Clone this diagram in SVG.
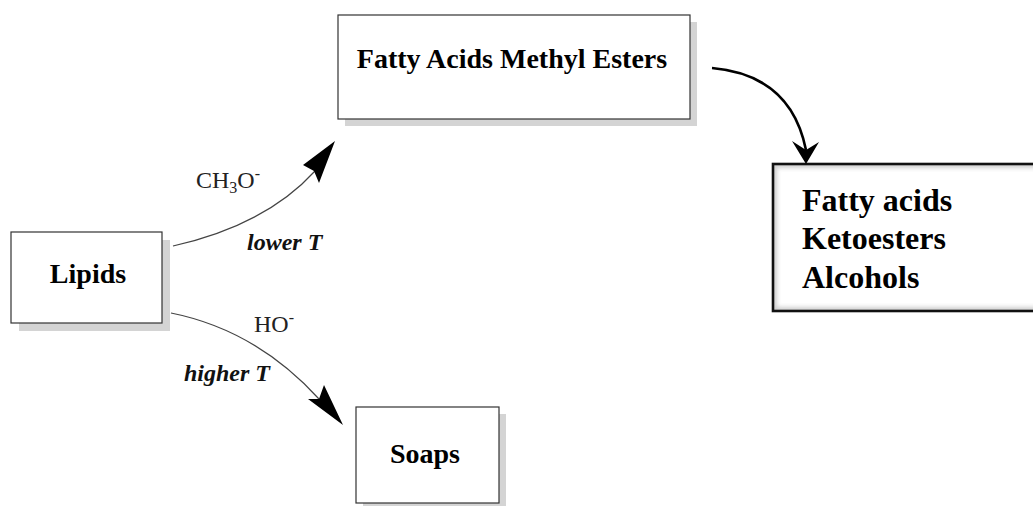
<svg xmlns="http://www.w3.org/2000/svg" width="1033" height="506" viewBox="0 0 1033 506">
<style>
.box{fill:#fff;stroke:#333;stroke-width:1.2}
.shadow{fill:#d4d4d4}
.lbl{font-family:"Liberation Serif","Times New Roman",serif;font-weight:bold;fill:#000}
.reg{font-family:"Liberation Serif","Times New Roman",serif;font-size:24px;fill:#222}
.ital{font-family:"Liberation Serif","Times New Roman",serif;font-size:24px;font-weight:bold;font-style:italic;fill:#111}
.thin{fill:none;stroke:#444;stroke-width:1.2}
.thick{fill:none;stroke:#000;stroke-width:2.6}
.head{fill:#000;stroke:none}
</style>
<defs>
<filter id="inner" x="-10%" y="-10%" width="120%" height="120%">
<feGaussianBlur stdDeviation="2"/>
</filter>
<clipPath id="rclip"><rect x="773" y="164" width="300" height="147"/></clipPath>
</defs>
<rect width="1033" height="506" fill="#fff"/>

<g id="lipids">
<rect class="shadow" x="19" y="240" width="151" height="91"/>
<rect class="box" x="11" y="232" width="151" height="91"/>
<text class="lbl" x="88" y="283" font-size="28" text-anchor="middle">Lipids</text>
</g>

<g id="fame">
<rect class="shadow" x="345" y="22" width="352" height="104"/>
<rect class="box" x="338" y="15" width="352" height="104"/>
<text class="lbl" x="512" y="68" font-size="28" text-anchor="middle">Fatty Acids Methyl Esters</text>
</g>

<g id="soaps">
<rect class="shadow" x="363" y="414" width="143" height="96"/>
<rect class="box" x="356" y="407" width="143" height="96"/>
<text class="lbl" x="425" y="463" font-size="28" text-anchor="middle">Soaps</text>
</g>

<g id="products">
<rect x="773" y="164" width="300" height="147" fill="#fff"/>
<g clip-path="url(#rclip)">
<rect x="773" y="164" width="300" height="147" fill="none" stroke="#cfcfcf" stroke-width="8" filter="url(#inner)"/>
</g>
<rect x="773" y="164" width="300" height="147" fill="none" stroke="#111" stroke-width="2.6"/>
<text class="lbl" x="802" y="211" font-size="32">Fatty acids</text>
<text class="lbl" x="802" y="249" font-size="32">Ketoesters</text>
<text class="lbl" x="802" y="288" font-size="32">Alcohols</text>
</g>

<g id="connectors">
<path class="thin" d="M173,246 Q266,225 315,171"/>
<path class="head" d="M335,141 L303,165 L314,171 L319,183 Z"/>
<path class="thin" d="M171,313 Q256,330 319,399"/>
<path class="head" d="M343,425 L308,399 L319,399 L324,385 Z"/>
<path class="thick" d="M712,68 Q791,75 806,150"/>
<path class="head" d="M806,164 L792,141 L806,150 L819,142 Z"/>
</g>

<g id="labels">
<text class="reg" x="196" y="188">CH<tspan font-size="16" dy="5">3</tspan><tspan dy="-5">O</tspan><tspan font-size="16" dy="-9">-</tspan></text>
<text class="ital" x="247" y="250">lower T</text>
<text class="reg" x="254" y="332">HO<tspan font-size="16" dy="-9">-</tspan></text>
<text class="ital" x="184" y="381">higher T</text>
</g>
</svg>
